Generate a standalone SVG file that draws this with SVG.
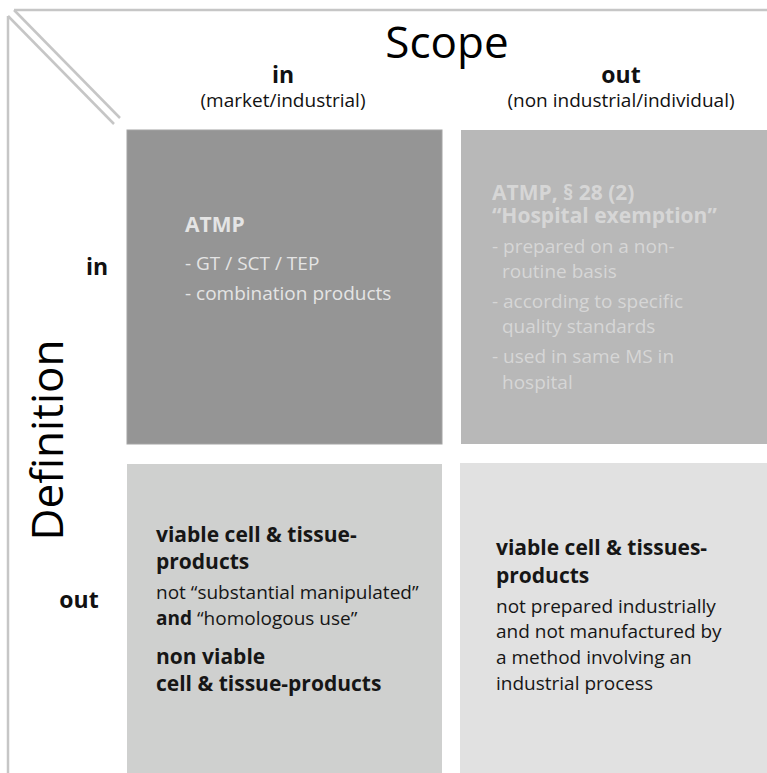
<svg xmlns="http://www.w3.org/2000/svg" width="767" height="773" viewBox="0 0 767 773">
  <style>
    text { font-family: "Open Sans", "Noto Sans", "Liberation Sans", sans-serif; }
    .frame { stroke: #c6c6c6; stroke-width: 2.5; fill: none; }
    .axis { fill: #000; }
    .head { font-size: 23px; font-weight: bold; fill: #111; text-anchor: middle; }
    .sub { font-size: 19px; fill: #111; text-anchor: middle; }
    .rowhead { font-size: 23px; font-weight: bold; fill: #111; text-anchor: middle; }
    .t-bold { font-size: 21px; font-weight: bold; }
    .t-reg { font-size: 19px; }
    .light { fill: #e4e4e4; }
    .pale { fill: #d6d6d6; }
    .dark { fill: #161616; }
  </style>

  <rect width="767" height="773" fill="#ffffff"/>

  <!-- outer frame with the split corner -->
  <g id="frame">
    <line class="frame" x1="14" y1="10" x2="767" y2="10"/>
    <line class="frame" x1="8" y1="16" x2="8" y2="773"/>
    <line class="frame" x1="14" y1="10" x2="120" y2="118"/>
    <line class="frame" x1="8" y1="16" x2="114" y2="124"/>
  </g>

  <!-- axis titles -->
  <g id="scope-axis">
    <text class="axis" x="447" y="58" font-size="44" text-anchor="middle">Scope</text>
    <text class="head" x="283" y="83">in</text>
    <text class="sub" x="283" y="107">(market/industrial)</text>
    <text class="head" x="621" y="83">out</text>
    <text class="sub" x="621" y="107">(non industrial/individual)</text>
  </g>

  <g id="definition-axis">
    <text class="axis" transform="translate(63,440) rotate(-90)" font-size="44" text-anchor="middle">Definition</text>
    <text class="rowhead" x="97" y="275">in</text>
    <text class="rowhead" x="79" y="608">out</text>
  </g>

  <!-- quadrant: in / in -->
  <g id="atmp">
    <rect x="127" y="130" width="315" height="314" fill="#959595" stroke="#a4a4a4" stroke-width="1"/>
    <text class="t-bold light" x="185" y="232" font-size="22">ATMP</text>
    <text class="t-reg light" x="185" y="270">- GT / SCT / TEP</text>
    <text class="t-reg light" x="185" y="300">- combination products</text>
  </g>

  <!-- quadrant: definition in / scope out -->
  <g id="hospital-exemption">
    <rect x="461" y="130" width="306" height="314" fill="#b8b8b8"/>
    <text class="t-bold pale" x="492" y="200">ATMP, § 28 (2)<tspan x="492" dy="23">“Hospital exemption”</tspan></text>
    <text class="t-reg pale" x="492" y="253">- prepared on a non-<tspan x="502" dy="25">routine basis</tspan></text>
    <text class="t-reg pale" x="492" y="308">- according to specific<tspan x="502" dy="25">quality standards</tspan></text>
    <text class="t-reg pale" x="492" y="363">- used in same MS in<tspan x="502" dy="26">hospital</tspan></text>
  </g>

  <!-- quadrant: definition out / scope in -->
  <g id="tissue-products-market">
    <rect x="127" y="464" width="315" height="309" fill="#cfd0cf"/>
    <text class="t-bold dark" x="156" y="542">viable cell &amp; tissue-<tspan x="156" dy="27">products</tspan></text>
    <text class="t-reg dark" x="156" y="599">not “substantial manipulated”<tspan x="156" dy="26"><tspan font-weight="bold">and</tspan> “homologous use”</tspan></text>
    <text class="t-bold dark" x="156" y="664">non viable<tspan x="156" dy="27">cell &amp; tissue-products</tspan></text>
  </g>

  <!-- quadrant: definition out / scope out -->
  <g id="tissue-products-individual">
    <rect x="460" y="463" width="307" height="310" fill="#e1e1e1"/>
    <text class="t-bold dark" x="496" y="555">viable cell &amp; tissues-<tspan x="496" dy="28">products</tspan></text>
    <text class="t-reg dark" x="496" y="613">not prepared industrially<tspan x="496" dy="25">and not manufactured by</tspan><tspan x="496" dy="26">a method involving an</tspan><tspan x="496" dy="26">industrial process</tspan></text>
  </g>
</svg>
